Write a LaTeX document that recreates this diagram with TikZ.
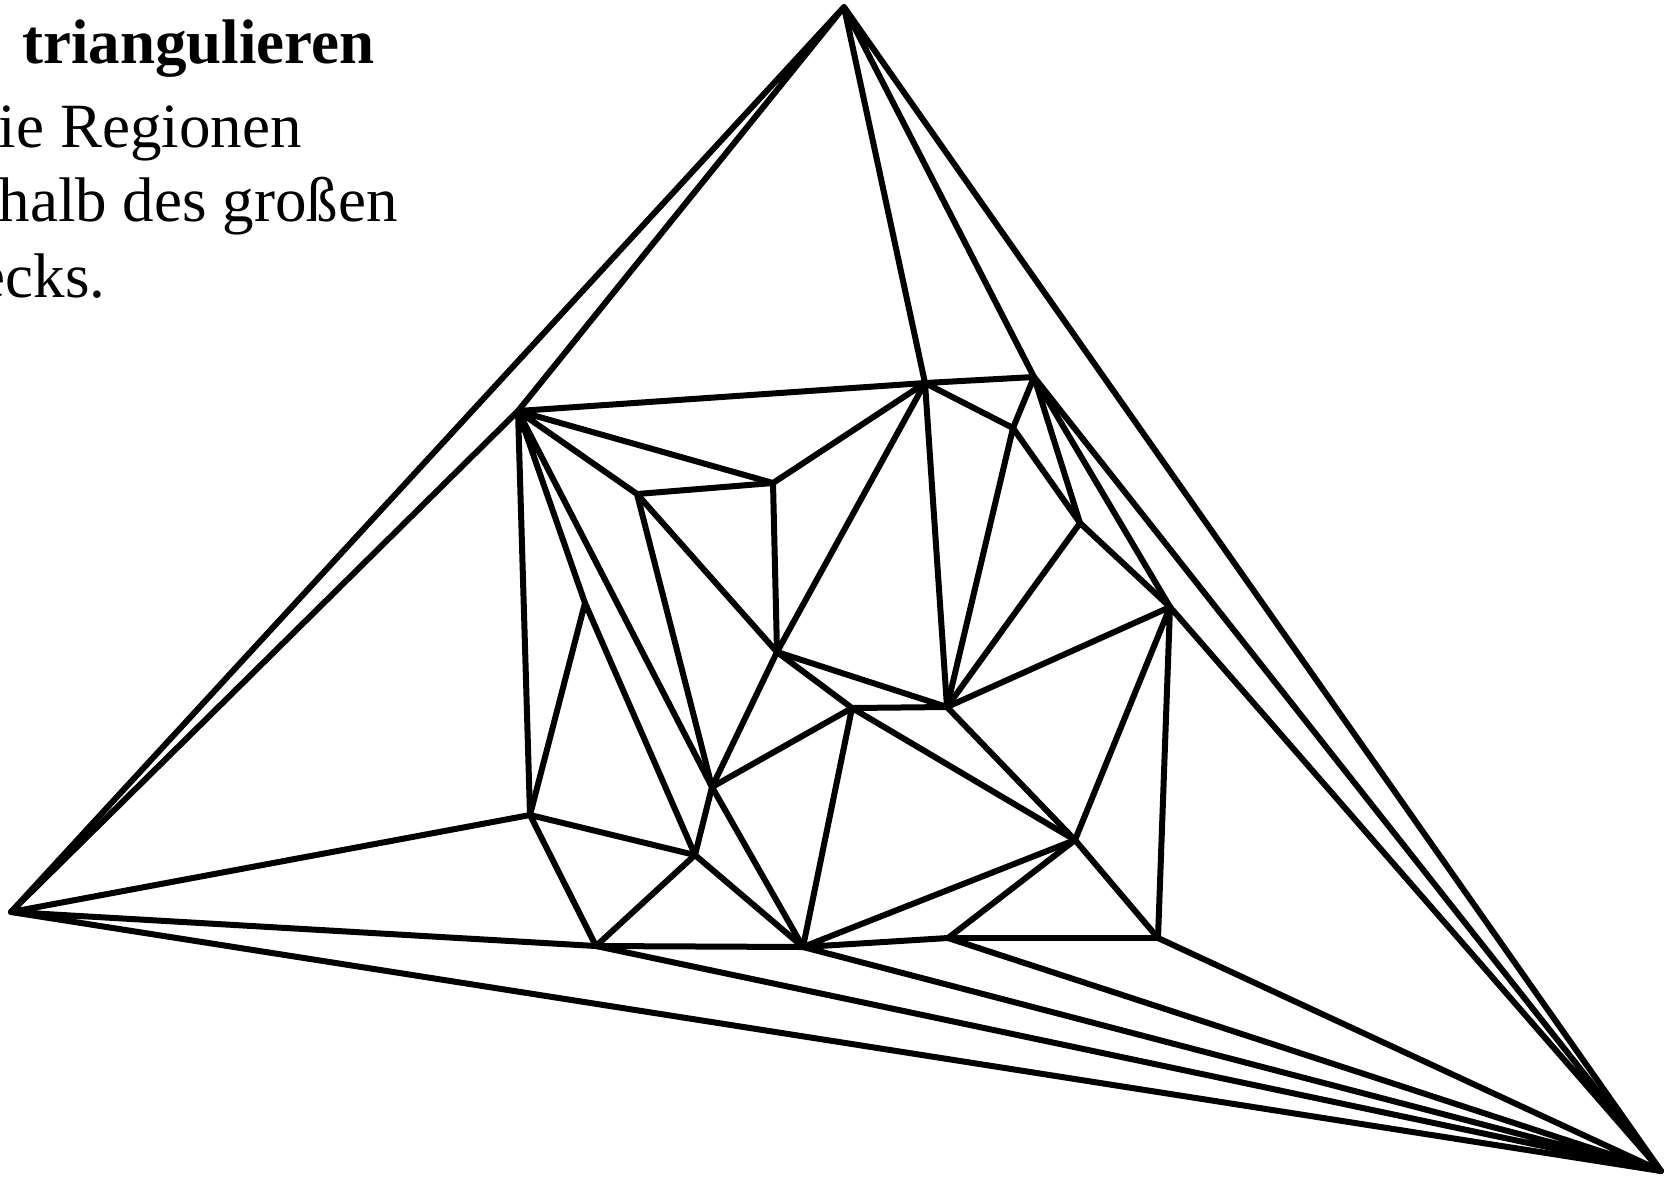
\documentclass[tikz,border=0pt]{standalone}
\usepackage{fontspec}
\setmainfont{Liberation Serif}

\begin{document}
\begin{tikzpicture}[
  x=0.5pt,
  y=-0.5pt,
  edge/.style={
    draw=black,
    line width=3pt,
    line cap=round,
    line join=round
  },
  caption/.style={
    anchor=base east,
    inner sep=0pt,
    font=\fontsize{31.5}{38}\selectfont
  }
]
  \useasboundingbox (0,0) rectangle (1679,1179);

  % Heading text (cut at the left border)
  \node[caption] (title) at (375,63) {\bfseries triangulieren};
  \node[caption] (line1) at (302,147) {ie Regionen};
  \node[caption] (line2) at (398,221) {halb des großen};
  \node[caption] (line3) at (106,297) {ecks.};

  % Corners of the big triangle
  \coordinate (top)   at (844,7);
  \coordinate (left)  at (11,912);
  \coordinate (right) at (1661,1171);

  % Inner vertices
  \coordinate (v1)  at (518,411);
  \coordinate (v2)  at (925,383);
  \coordinate (v3)  at (1034,377);
  \coordinate (v4)  at (1013,428);
  \coordinate (v5)  at (1080,523);
  \coordinate (v6)  at (1170,607);
  \coordinate (v7)  at (947,707);
  \coordinate (v8)  at (637,494);
  \coordinate (v9)  at (773,483);
  \coordinate (v10) at (777,652);
  \coordinate (v11) at (585,603);
  \coordinate (v12) at (852,708);
  \coordinate (v13) at (712,787);
  \coordinate (v14) at (530,815);
  \coordinate (v15) at (695,855);
  \coordinate (v16) at (596,946);
  \coordinate (v17) at (803,947);
  \coordinate (v18) at (1075,840);
  \coordinate (v19) at (948,938);
  \coordinate (v20) at (1158,938);

  % Edges to the outer corners
  \draw[edge] (top) -- (left) (top) -- (v1) (top) -- (v2) (top) -- (v3) (top) -- (right);
  \draw[edge] (left) -- (v1) (left) -- (v14) (left) -- (v16) (left) -- (right);
  \draw[edge] (right) -- (v3) (right) -- (v6) (right) -- (v20) (right) -- (v19) (right) -- (v17) (right) -- (v16);

  % Edges inside the triangle
  \draw[edge] (v1) -- (v2) (v1) -- (v9) (v1) -- (v8) (v1) -- (v14) (v1) -- (v11) (v1) -- (v13);
  \draw[edge] (v2) -- (v3) (v2) -- (v9) (v2) -- (v10) (v2) -- (v7) (v2) -- (v4);
  \draw[edge] (v3) -- (v4) (v3) -- (v5) (v3) -- (v6);
  \draw[edge] (v4) -- (v7) (v4) -- (v5);
  \draw[edge] (v5) -- (v6) (v5) -- (v7);
  \draw[edge] (v6) -- (v7) (v6) -- (v18) (v6) -- (v20);
  \draw[edge] (v7) -- (v10) (v7) -- (v12) (v7) -- (v18);
  \draw[edge] (v8) -- (v9) (v8) -- (v10) (v8) -- (v13);
  \draw[edge] (v9) -- (v10);
  \draw[edge] (v10) -- (v12) (v10) -- (v13);
  \draw[edge] (v11) -- (v14) (v11) -- (v15);
  \draw[edge] (v12) -- (v13) (v12) -- (v17) (v12) -- (v18);
  \draw[edge] (v13) -- (v15) (v13) -- (v17);
  \draw[edge] (v14) -- (v15) (v14) -- (v16);
  \draw[edge] (v15) -- (v16) (v15) -- (v17);
  \draw[edge] (v16) -- (v17);
  \draw[edge] (v17) -- (v18) (v17) -- (v19);
  \draw[edge] (v18) -- (v19) (v18) -- (v20);
  \draw[edge] (v19) -- (v20);

\end{tikzpicture}
\end{document}
